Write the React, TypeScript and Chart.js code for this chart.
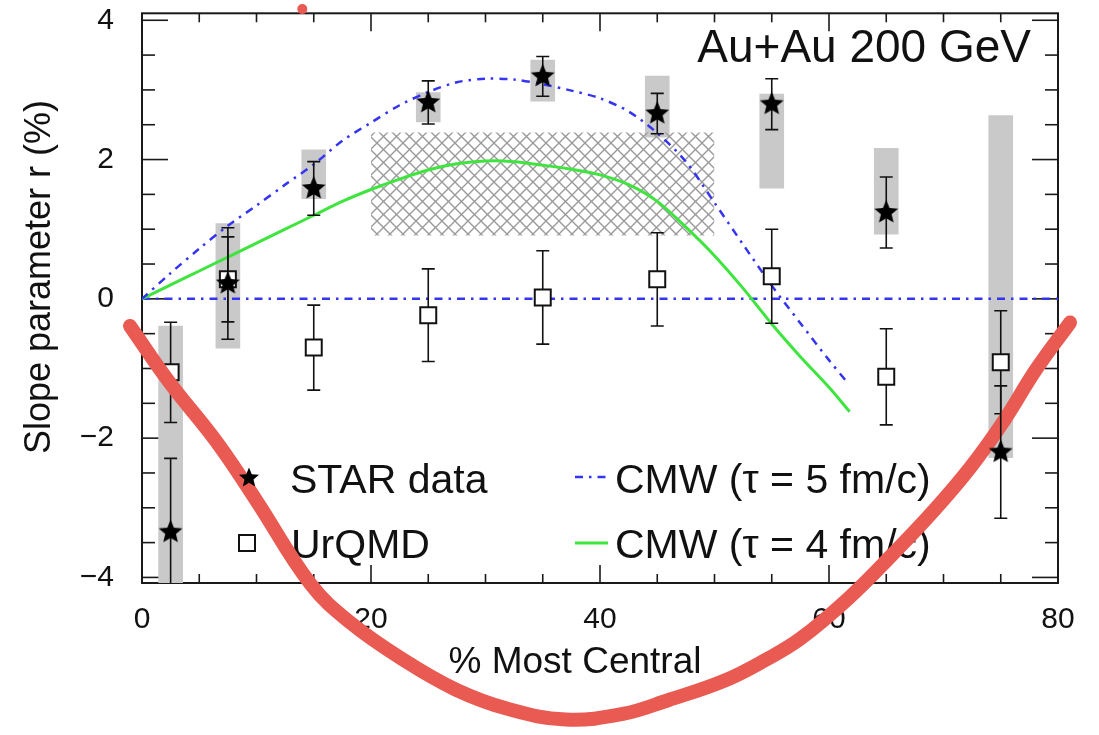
import React, { useEffect, useRef } from "react";
import { Chart, registerables } from "chart.js";

Chart.register(...registerables);

// ---------------- data ----------------
const centrality = [2.5, 7.5, 15, 25, 35, 45, 55, 65, 75];
const starValues = [-3.35, 0.22, 1.585, 2.82, 3.195, 2.66, 2.795, 1.24, -2.2];
const starStatErr = [1.06, 0.8, 0.385, 0.31, 0.285, 0.29, 0.365, 0.51, 0.95];
const starSysLow = [-6.3, -0.71, 1.44, 2.54, 2.84, 2.32, 1.59, 0.93, -2.28];
const starSysHigh = [-0.39, 1.08, 2.14, 2.96, 3.43, 3.2, 2.94, 2.16, 2.63];

const urqmdValues = [-1.055, 0.28, -0.7, -0.235, 0.02, 0.28, 0.325, -1.12, -0.91];
const urqmdErr = [0.72, 0.61, 0.61, 0.665, 0.67, 0.67, 0.675, 0.69, 0.74];

const cmw5X = [0, 2.5, 5, 7.5, 10, 12.5, 15, 17.5, 20, 22.5, 25, 27.5, 30, 32.5, 35, 37.5, 40, 42.5, 45, 47.5, 50, 52.5, 55, 57.5, 60, 61.6];
const cmw5Y = [0, 0.37, 0.72, 1.05, 1.34, 1.64, 1.93, 2.27, 2.53, 2.78, 2.97, 3.11, 3.16, 3.15, 3.08, 2.99, 2.88, 2.69, 2.38, 1.97, 1.38, 0.78, 0.19, -0.35, -0.88, -1.2];

const cmw4X = [0, 2.5, 5, 7.5, 10, 12.5, 15, 17.5, 20, 22.5, 25, 27.5, 30, 32.5, 35, 37.5, 40, 42.5, 45, 47.5, 50, 52.5, 55, 57.5, 60, 61.8];
const cmw4Y = [0, 0.2, 0.4, 0.6, 0.8, 1.0, 1.2, 1.4, 1.57, 1.72, 1.85, 1.94, 1.98, 1.97, 1.92, 1.86, 1.78, 1.64, 1.4, 1.03, 0.62, 0.15, -0.36, -0.83, -1.27, -1.62];

const zeroLineX = [0, 80];
const zeroLineY = [0, 0];

const hatchX = [20, 50];
const hatchTopY = [2.39, 2.39];
const hatchBottomY = [0.91, 0.91];

const redX = [-1.05, 2.4, 6.5, 10, 14.7, 18.2, 22.8, 27.4, 32, 37, 42, 46, 50.9, 54.5, 57.5, 61.7, 65.6, 69.1, 72.3, 75.2, 78.1, 81.05];
const redY = [-0.39, -1.2, -2.05, -2.9, -4.09, -4.65, -5.18, -5.61, -5.89, -6.04, -5.96, -5.76, -5.48, -5.18, -4.88, -4.3, -3.66, -3.05, -2.43, -1.77, -1.01, -0.34];
const redDotX = [14];
const redDotY = [4.16];

const xTickValues = [0, 20, 40, 60, 80];
const yTickValues = [-4, -2, 0, 2, 4];

const xTitle = "% Most Central";
const yTitle = "Slope parameter r (%)";
const plotLabel = "Au+Au 200 GeV";
const legendLabels = ["STAR data", "UrQMD", "CMW (\u03c4 = 5 fm/c)", "CMW (\u03c4 = 4 fm/c)"];

// ---------------- styles ----------------
const FONT = "'Liberation Sans', Arial, Helvetica, sans-serif";
const INK = "#111111";
const BLUE = "#3434f2";
const GREEN = "#3fe43f";
const RED = "#e85a52";
const GRAY = "#c9c9c9";
const BLUE_DASH = [8, 6, 2.5, 6];

const pts = (xs: number[], ys: number[]) => xs.map((x, i) => ({ x, y: ys[i] }));

function starPath(ctx: CanvasRenderingContext2D, cx: number, cy: number, r: number, inner: number) {
  ctx.beginPath();
  for (let i = 0; i < 10; i++) {
    const rad = i % 2 === 0 ? r : r * inner;
    const a = -Math.PI / 2 + (i * Math.PI) / 5;
    const px = cx + rad * Math.cos(a);
    const py = cy + rad * Math.sin(a);
    if (i === 0) ctx.moveTo(px, py);
    else ctx.lineTo(px, py);
  }
  ctx.closePath();
}

function makeStar(r: number, inner: number) {
  const c = document.createElement("canvas");
  const s = Math.ceil(r * 2 + 2);
  c.width = s;
  c.height = s;
  const g = c.getContext("2d")!;
  g.fillStyle = "#000";
  starPath(g, s / 2, s / 2, r, inner);
  g.fill();
  return c;
}

function makeHatch() {
  const p = 13;
  const c = document.createElement("canvas");
  c.width = p;
  c.height = p;
  const g = c.getContext("2d")!;
  g.strokeStyle = "#9a9a9a";
  g.lineWidth = 1.4;
  g.beginPath();
  g.moveTo(-1, -1);
  g.lineTo(p + 1, p + 1);
  g.moveTo(-1, p + 1);
  g.lineTo(p + 1, -1);
  g.stroke();
  return g.createPattern(c, "repeat");
}

function line(ctx: CanvasRenderingContext2D, x1: number, y1: number, x2: number, y2: number) {
  ctx.beginPath();
  ctx.moveTo(x1, y1);
  ctx.lineTo(x2, y2);
  ctx.stroke();
}

const decorPlugin = {
  id: "decor",
  beforeDatasetsDraw(chart: any) {
    const ctx: CanvasRenderingContext2D = chart.ctx;
    const ca = chart.chartArea;
    const xs = chart.scales.x;
    const ys = chart.scales.y;
    ctx.save();
    // frame
    ctx.strokeStyle = "#1a1a1a";
    ctx.lineWidth = 2;
    ctx.strokeRect(ca.left, ca.top, ca.right - ca.left, ca.bottom - ca.top);
    // inward ticks
    ctx.lineWidth = 1.6;
    for (let v = 0; v <= 80; v += 5) {
      const len = v % 20 === 0 ? 18 : 9;
      const px = xs.getPixelForValue(v);
      line(ctx, px, ca.bottom, px, ca.bottom - len);
      line(ctx, px, ca.top, px, ca.top + len);
    }
    for (let v = -4; v <= 4; v += 0.5) {
      const len = v % 2 === 0 ? 26 : 13;
      const py = ys.getPixelForValue(v);
      line(ctx, ca.left, py, ca.left + len, py);
      line(ctx, ca.right, py, ca.right - len, py);
    }
    // axis titles
    ctx.fillStyle = INK;
    ctx.textBaseline = "middle";
    ctx.textAlign = "center";
    ctx.font = `37px ${FONT}`;
    ctx.fillText(xTitle, 575, 663);
    ctx.save();
    ctx.translate(40, 277);
    ctx.rotate(-Math.PI / 2);
    ctx.font = `36px ${FONT}`;
    ctx.fillText(yTitle, 0, 0);
    ctx.restore();
    // label
    ctx.textBaseline = "alphabetic";
    ctx.textAlign = "right";
    ctx.font = `46px ${FONT}`;
    ctx.fillText(plotLabel, 1031, 62);
    // legend
    ctx.textAlign = "left";
    ctx.font = `41px ${FONT}`;
    ctx.fillStyle = INK;
    ctx.fillText(legendLabels[0], 290, 493);
    ctx.fillStyle = "#fff";
    ctx.strokeStyle = INK;
    ctx.lineWidth = 2;
    ctx.fillRect(239, 535, 16, 16);
    ctx.strokeRect(239, 535, 16, 16);
    ctx.fillStyle = INK;
    ctx.fillText(legendLabels[1], 291, 558);
    ctx.strokeStyle = BLUE;
    ctx.lineWidth = 2.5;
    ctx.setLineDash(BLUE_DASH);
    line(ctx, 575, 477, 606, 477);
    ctx.setLineDash([]);
    ctx.fillText(legendLabels[2], 615, 493);
    ctx.strokeStyle = GREEN;
    ctx.lineWidth = 3;
    line(ctx, 575, 543, 608, 543);
    ctx.fillText(legendLabels[3], 615, 558);
    ctx.restore();
  },
  afterDatasetsDraw(chart: any) {
    const ctx: CanvasRenderingContext2D = chart.ctx;
    ctx.save();
    ctx.fillStyle = "#000";
    starPath(ctx, 249, 478, 10.5, 0.45);
    ctx.fill();
    ctx.restore();
  },
};

function drawErrors(chart: any, values: number[], errs: number[]) {
  const ctx: CanvasRenderingContext2D = chart.ctx;
  const ca = chart.chartArea;
  const xs = chart.scales.x;
  const ys = chart.scales.y;
  ctx.save();
  ctx.beginPath();
  ctx.rect(ca.left, ca.top, ca.right - ca.left, ca.bottom - ca.top);
  ctx.clip();
  ctx.strokeStyle = INK;
  ctx.lineWidth = 1.6;
  centrality.forEach((c, i) => {
    const px = xs.getPixelForValue(c);
    const top = ys.getPixelForValue(values[i] + errs[i]);
    const bot = ys.getPixelForValue(values[i] - errs[i]);
    line(ctx, px, top, px, bot);
    line(ctx, px - 6.5, top, px + 6.5, top);
    line(ctx, px - 6.5, bot, px + 6.5, bot);
  });
  ctx.restore();
}

// dataset indices: 0 stars, 1 red, 2 red dot, 3 urqmd
const errorPlugin = {
  id: "errors",
  beforeDatasetDraw(chart: any, args: any) {
    if (args.index === 3) drawErrors(chart, urqmdValues, urqmdErr);
    if (args.index === 0) drawErrors(chart, starValues, starStatErr);
  },
};

export default function App() {
  const ref = useRef<HTMLCanvasElement>(null);
  useEffect(() => {
    const canvas = ref.current!;
    const starImg = makeStar(12.5, 0.45);
    const hatch = makeHatch();
    const chart = new Chart(canvas, {
      type: "scatter",
      data: {
        datasets: [
          {
            type: "scatter",
            label: legendLabels[0],
            data: pts(centrality, starValues),
            pointStyle: starImg,
            order: 0,
          } as any,
          {
            type: "line",
            label: "red",
            data: pts(redX, redY),
            borderColor: RED,
            borderWidth: 14,
            borderCapStyle: "round",
            borderJoinStyle: "round",
            tension: 0.4,
            capBezierPoints: false,
            pointRadius: 0,
            fill: false,
            clip: false,
            order: 1,
          } as any,
          {
            type: "scatter",
            label: "redDot",
            data: pts(redDotX, redDotY),
            pointRadius: 5,
            backgroundColor: RED,
            borderWidth: 0,
            clip: false,
            order: 1,
          } as any,
          {
            type: "scatter",
            label: legendLabels[1],
            data: pts(centrality, urqmdValues),
            pointStyle: "rect",
            pointRadius: 11.3,
            backgroundColor: "#ffffff",
            borderColor: INK,
            borderWidth: 2,
            order: 3,
          } as any,
          {
            type: "line",
            label: legendLabels[2],
            data: pts(cmw5X, cmw5Y),
            borderColor: BLUE,
            borderWidth: 2.5,
            borderDash: BLUE_DASH,
            tension: 0.3,
            pointRadius: 0,
            fill: false,
            order: 5,
          } as any,
          {
            type: "line",
            label: legendLabels[3],
            data: pts(cmw4X, cmw4Y),
            borderColor: GREEN,
            borderWidth: 3,
            tension: 0.3,
            pointRadius: 0,
            fill: false,
            order: 5,
          } as any,
          {
            type: "line",
            label: "zero",
            data: pts(zeroLineX, zeroLineY),
            borderColor: BLUE,
            borderWidth: 2.5,
            borderDash: BLUE_DASH,
            pointRadius: 0,
            fill: false,
            order: 6,
          } as any,
          {
            type: "line",
            label: "hatchTop",
            data: pts(hatchX, hatchTopY),
            borderWidth: 0,
            borderColor: "rgba(0,0,0,0)",
            backgroundColor: hatch,
            pointRadius: 0,
            fill: "+1",
            order: 7,
          } as any,
          {
            type: "line",
            label: "hatchBottom",
            data: pts(hatchX, hatchBottomY),
            borderWidth: 0,
            borderColor: "rgba(0,0,0,0)",
            pointRadius: 0,
            fill: false,
            order: 8,
          } as any,
          {
            type: "bar",
            label: "sys",
            data: centrality.map((x, i) => ({ x, y: [starSysLow[i], starSysHigh[i]] })),
            backgroundColor: GRAY,
            borderWidth: 0,
            barThickness: 24,
            grouped: false,
            order: 9,
          } as any,
        ],
      },
      options: {
        responsive: false,
        animation: false,
        events: [],
        layout: { padding: { top: 8, right: 41, left: 0, bottom: 0 } },
        plugins: {
          legend: { display: false },
          tooltip: { enabled: false },
          title: { display: false },
        },
        scales: {
          x: {
            type: "linear",
            min: 0,
            max: 80,
            offset: false,
            grid: { display: false },
            border: { display: false },
            afterBuildTicks: (s: any) => {
              s.ticks = xTickValues.map((v) => ({ value: v }));
            },
            afterFit: (s: any) => {
              s.height = 152;
              s.paddingLeft = 0;
              s.paddingRight = 0;
              s.paddingTop = 0;
              s.paddingBottom = 0;
            },
            ticks: {
              padding: 11,
              maxRotation: 0,
              autoSkip: false,
              color: INK,
              font: { family: FONT, size: 30 },
              callback: (v: any) => String(v),
            },
          },
          y: {
            type: "linear",
            min: -4.08,
            max: 4.1,
            grid: { display: false },
            border: { display: false },
            afterBuildTicks: (s: any) => {
              s.ticks = yTickValues.map((v) => ({ value: v }));
            },
            afterFit: (s: any) => {
              s.width = 142;
              s.paddingLeft = 0;
              s.paddingRight = 0;
              s.paddingTop = 0;
              s.paddingBottom = 0;
            },
            ticks: {
              padding: 20,
              autoSkip: false,
              color: INK,
              font: { family: FONT, size: 30 },
              callback: (v: any) => (Number(v) < 0 ? "\u2212" + Math.abs(Number(v)) : String(v)),
            },
          },
        },
      } as any,
      plugins: [decorPlugin, errorPlugin],
    });
    return () => chart.destroy();
  }, []);
  return (
    <div style={{ position: "fixed", left: 0, top: 0, width: 1099, height: 735, background: "#ffffff" }}>
      <canvas ref={ref} width={1099} height={735} style={{ display: "block" }} />
    </div>
  );
}
